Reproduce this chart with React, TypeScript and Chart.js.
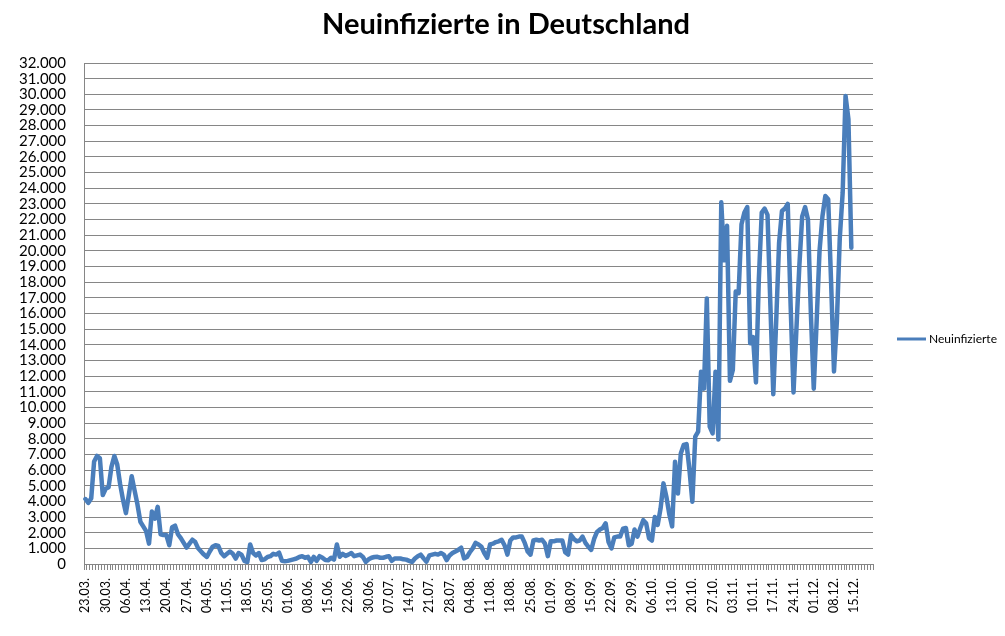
import { useEffect, useRef } from "react";
import { Chart, registerables } from "chart.js";

Chart.register(...registerables);

// ---- data -------------------------------------------------------------
const TITLE = "Neuinfizierte in Deutschland";
const SERIES_LABEL = "Neuinfizierte";

// first category: 23.03.2020, 273 daily categories (23.03. – 20.12.)
const FIRST_DAY = { year: 2020, month: 3, day: 23 };
const CATEGORY_COUNT = 273;
const LABEL_EVERY = 7;

// weekly tick labels shown on the axis
const TICK_LABELS = [
  "23.03.", "30.03.", "06.04.", "13.04.", "20.04.", "27.04.", "04.05.", "11.05.",
  "18.05.", "25.05.", "01.06.", "08.06.", "15.06.", "22.06.", "30.06.", "07.07.",
  "14.07.", "21.07.", "28.07.", "04.08.", "11.08.", "18.08.", "25.08.", "01.09.",
  "08.09.", "15.09.", "22.09.", "29.09.", "06.10.", "13.10.", "20.10.", "27.10.",
  "03.11.", "10.11.", "17.11.", "24.11.", "01.12.", "08.12.", "15.12.",
];

const Y_MIN = 0;
const Y_MAX = 32000;
const Y_STEP = 1000;

// daily new infections, 23.03. – 13.12.
const NEUINFIZIERTE = [
  4150, 3900, 4200, 6550, 6900, 6750, 4400, 4800, 4900, 6200,
  6900, 6350, 5100, 4100, 3250, 4400, 5600, 4700, 3800, 2700,
  2400, 2100, 1300, 3350, 2900, 3650, 1900, 1850, 1850, 1200,
  2350, 2450, 1900, 1650, 1350, 1050, 1300, 1550, 1400, 1000,
  800, 600, 450, 800, 1100, 1200, 1150, 700, 500, 650,
  800, 650, 350, 700, 600, 200, 120, 1250, 700, 550,
  700, 250, 300, 450, 500, 650, 600, 720, 200, 180,
  200, 250, 300, 350, 450, 500, 400, 460, 130, 450,
  200, 500, 400, 250, 240, 400, 280, 1250, 460, 650,
  520, 600, 700, 500, 550, 600, 450, 130, 300, 400,
  450, 460, 400, 400, 460, 500, 200, 350, 350, 350,
  300, 280, 200, 130, 350, 500, 600, 360, 150, 550,
  600, 650, 600, 700, 600, 250, 550, 700, 800, 900,
  1040, 360, 450, 750, 1000, 1350, 1250, 1100, 700, 400,
  1250, 1300, 1400, 1450, 1550, 1200, 600, 1500, 1700, 1700,
  1750, 1750, 1350, 800, 600, 1500, 1550, 1500, 1550, 1300,
  500, 1450, 1450, 1500, 1500, 1500, 750, 600, 1850, 1600,
  1450, 1500, 1750, 1350, 1100, 900, 1600, 2050, 2200, 2300,
  2600, 1400, 1000, 1700, 1750, 1750, 2250, 2300, 1200, 1300,
  2200, 1750, 2300, 2800, 2600, 1650, 1500, 3000, 2500, 3550,
  5150, 4300, 3200, 2400, 6530, 4500, 7060, 7600, 7660, 6000,
  3980, 8130, 8450, 12280, 11200, 16960, 8770, 8340, 12280, 7950,
  23100, 19400, 21600, 11700, 12400, 17400, 17300, 21700, 22450, 22800,
  14100, 14500, 11600, 18200, 22450, 22700, 22300, 16500, 10850, 15500,
  20500, 22550, 22700, 23000, 16500, 10960, 15000, 19000, 22200, 22800,
  22000, 16000, 11200, 15500, 20000, 22200, 23500, 23300, 18000, 12300,
  15500, 20800, 23700, 29900, 28400, 20200,
];

// ---- helpers ----------------------------------------------------------
function buildCategories(): string[] {
  const out: string[] = [];
  for (let i = 0; i < CATEGORY_COUNT; i++) {
    const d = new Date(FIRST_DAY.year, FIRST_DAY.month - 1, FIRST_DAY.day + i);
    const dd = String(d.getDate()).padStart(2, "0");
    const mm = String(d.getMonth() + 1).padStart(2, "0");
    out.push(`${dd}.${mm}.`);
  }
  return out;
}

function formatThousands(v: number): string {
  return Math.round(v)
    .toString()
    .replace(/\B(?=(\d{3})+(?!\d))/g, ".");
}

const LINE_COLOR = "#4A7EBB";
const GRID_COLOR = "#868686";
const FONT = "Lato";

const W = 1005;
const H = 636;

export default function App() {
  const ref = useRef<HTMLCanvasElement | null>(null);

  useEffect(() => {
    if (!ref.current) return;
    const categories = buildCategories();

    const overlay = {
      id: "overlay",
      afterDraw(chart: any) {
        const ctx = chart.ctx as CanvasRenderingContext2D;
        ctx.save();
        ctx.fillStyle = "#000";
        ctx.textAlign = "center";
        ctx.textBaseline = "middle";
        ctx.font = `bold 29px ${FONT}`;
        ctx.fillText(TITLE, 506, 25);

        // legend
        ctx.strokeStyle = LINE_COLOR;
        ctx.lineWidth = 3;
        ctx.beginPath();
        ctx.moveTo(897, 339);
        ctx.lineTo(926, 339);
        ctx.stroke();
        ctx.font = `12px ${FONT}`;
        ctx.textAlign = "left";
        ctx.fillText(SERIES_LABEL, 929, 339);
        ctx.restore();
      },
    };

    const chart = new Chart(ref.current, {
      type: "line",
      data: {
        labels: categories,
        datasets: [
          {
            label: SERIES_LABEL,
            data: NEUINFIZIERTE,
            borderColor: LINE_COLOR,
            backgroundColor: LINE_COLOR,
            borderWidth: 4.5,
            pointRadius: 0,
            pointHoverRadius: 0,
            tension: 0,
            borderJoinStyle: "round",
            borderCapStyle: "round",
            fill: false,
          },
        ],
      },
      options: {
        animation: false,
        responsive: false,
        devicePixelRatio: 1,
        events: [],
        layout: { padding: { left: 8, right: 132, top: 63, bottom: 0 } },
        plugins: {
          legend: { display: false },
          title: { display: false },
          tooltip: { enabled: false },
        },
        scales: {
          x: {
            type: "category",
            offset: true,
            grid: {
              display: true,
              drawOnChartArea: false,
              drawTicks: true,
              tickLength: 6,
              color: GRID_COLOR,
              offset: true,
            },
            border: { display: true, color: GRID_COLOR, width: 1 },
            ticks: {
              autoSkip: false,
              maxRotation: 90,
              minRotation: 90,
              padding: 8,
              color: "#000",
              font: { family: FONT, size: 12.5 },
              callback: (_v: any, i: number) =>
                i % LABEL_EVERY === 0 ? TICK_LABELS[i / LABEL_EVERY] ?? "" : "",
            },
            afterFit: (s: any) => {
              s.height = H - 564;
            },
          },
          y: {
            min: Y_MIN,
            max: Y_MAX,
            grid: { color: GRID_COLOR, drawTicks: false, lineWidth: 1 },
            border: { display: true, color: GRID_COLOR, width: 1 },
            ticks: {
              stepSize: Y_STEP,
              autoSkip: false,
              padding: 18,
              color: "#000",
              font: { family: FONT, size: 15 },
              callback: (v: any) => formatThousands(Number(v)),
            },
            afterFit: (s: any) => {
              s.width = 76;
            },
          },
        },
      },
      plugins: [overlay],
    });

    return () => chart.destroy();
  }, []);

  return (
    <div
      style={{
        position: "absolute",
        left: 0,
        top: 0,
        width: W,
        height: H,
        background: "#fff",
      }}
    >
      <canvas ref={ref} width={W} height={H} style={{ display: "block" }} />
    </div>
  );
}
